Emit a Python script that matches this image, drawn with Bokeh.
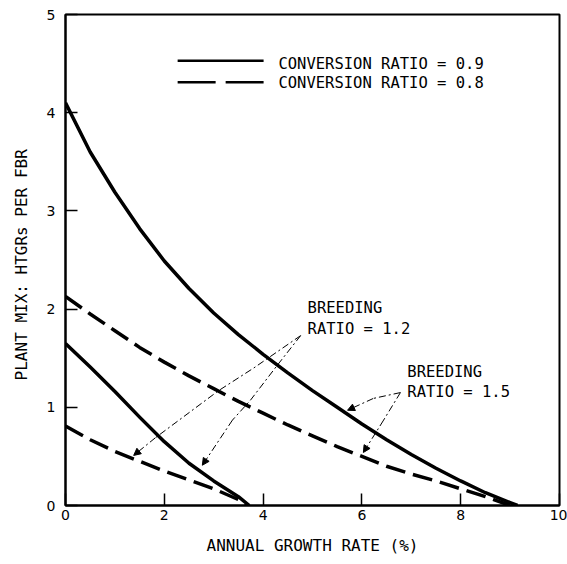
from bokeh.plotting import figure
from bokeh.models import Range1d, FixedTicker, Arrow, NormalHead, Label
from bokeh.core.properties import value
from bokeh.embed import file_html
from bokeh.resources import INLINE

# ---- data ----
growth_br15_cr09 = [0, 0.5, 1, 1.5, 2, 2.5, 3, 3.5, 4, 4.5, 5, 5.5, 6, 6.5, 7, 7.5, 8, 8.5, 9, 9.15]
mix_br15_cr09 = [4.10, 3.60, 3.19, 2.82, 2.49, 2.21, 1.96, 1.74, 1.54, 1.35, 1.17, 1.00, 0.83, 0.67, 0.52, 0.38, 0.25, 0.13, 0.03, 0.0]

growth_br15_cr08 = [0, 0.5, 1, 1.5, 2, 2.5, 3, 3.5, 4, 4.5, 5, 5.5, 6, 6.5, 7, 7.5, 8, 8.5, 9.0]
mix_br15_cr08 = [2.13, 1.95, 1.78, 1.61, 1.46, 1.32, 1.19, 1.06, 0.94, 0.82, 0.71, 0.60, 0.50, 0.40, 0.32, 0.25, 0.17, 0.09, 0.0]

growth_br12_cr09 = [0, 0.5, 1, 1.5, 2, 2.5, 3, 3.5, 3.72]
mix_br12_cr09 = [1.65, 1.41, 1.16, 0.90, 0.65, 0.43, 0.25, 0.09, 0.0]

growth_br12_cr08 = [0, 0.5, 1, 1.5, 2, 2.5, 3, 3.5, 3.68]
mix_br12_cr08 = [0.81, 0.67, 0.55, 0.45, 0.35, 0.26, 0.17, 0.06, 0.0]

x_ticks = [0, 2, 4, 6, 8, 10]
y_ticks = [0, 1, 2, 3, 4, 5]

legend_labels = ["CONVERSION RATIO = 0.9", "CONVERSION RATIO = 0.8"]
note_br12 = ["BREEDING", "RATIO = 1.2"]
note_br15 = ["BREEDING", "RATIO = 1.5"]

# leader lines (annotation paths, data units)
leader_br12_a_x = [4.76, 3.81, 3.10, 1.82, 1.38]
leader_br12_a_y = [1.73, 1.40, 1.17, 0.69, 0.51]
leader_br12_b_x = [4.76, 4.29, 3.74, 3.38, 2.77]
leader_br12_b_y = [1.73, 1.43, 1.07, 0.87, 0.41]
leader_br15_a_x = [6.78, 6.23, 5.71]
leader_br15_a_y = [1.15, 1.09, 0.97]
leader_br15_b_x = [6.78, 6.44, 6.03]
leader_br15_b_y = [1.15, 0.87, 0.54]

MONO = "DejaVu Sans Mono"
SANS = "DejaVu Sans"

p = figure(width=567, height=564, x_range=Range1d(0, 10), y_range=Range1d(0, 5),
           output_backend="svg", toolbar_location=None,
           min_border_left=65, min_border_right=8, min_border_top=14, min_border_bottom=59)

p.xgrid.visible = False
p.ygrid.visible = False
p.outline_line_color = "black"
p.outline_line_width = 2
p.outline_line_alpha = 1.0
p.background_fill_color = "white"
p.border_fill_color = "white"

for ax in (p.xaxis[0], p.yaxis[0]):
    ax.axis_line_width = 2
    ax.axis_line_color = "black"
    ax.major_tick_in = 12
    ax.major_tick_out = 0
    ax.major_tick_line_width = 1.5
    ax.minor_tick_line_color = None
    ax.major_label_text_font = SANS
    ax.major_label_text_font_size = "14px"
    ax.major_label_text_color = "black"
    ax.axis_label_text_font = MONO
    ax.axis_label_text_font_size = "16px"
    ax.axis_label_text_font_style = "normal"
    ax.axis_label_text_color = "black"

p.xaxis.ticker = FixedTicker(ticks=x_ticks)
p.yaxis.ticker = FixedTicker(ticks=y_ticks)
p.xaxis.major_label_standoff = 4
p.yaxis.major_label_standoff = 10
p.xaxis.axis_label = "ANNUAL GROWTH RATE (%)"
p.yaxis.axis_label = "PLANT MIX:  HTGRs PER FBR"
p.xaxis.axis_label_standoff = 13
p.yaxis.axis_label_standoff = 13

# curves
p.line(growth_br15_cr09, mix_br15_cr09, line_color="black", line_width=3.5, line_join="round")
p.line(growth_br15_cr08, mix_br15_cr08, line_color="black", line_width=3.5, line_dash="20 8")
p.line(growth_br12_cr09, mix_br12_cr09, line_color="black", line_width=3.5, line_join="round")
p.line(growth_br12_cr08, mix_br12_cr08, line_color="black", line_width=3.5, line_dash="20 8")

# legend (drawn manually, like the reference)
p.line([2.27, 4.01], [4.53, 4.53], line_color="black", line_width=2.5)
p.line([2.27, 4.01], [4.31, 4.31], line_color="black", line_width=2.5, line_dash="38 10")
for lab, yy in zip(legend_labels, [4.50, 4.30]):
    p.add_layout(Label(x=4.31, y=yy, text=lab, text_font=MONO, text_font_size="15.5px",
                       text_baseline="middle", text_align="left", text_color="black"))

for lab, yy in zip(note_br12, [2.01, 1.80]):
    p.add_layout(Label(x=4.90, y=yy, text=lab, text_font=MONO, text_font_size="15.5px",
                       text_baseline="middle", text_align="left", text_color="black"))
for lab, yy in zip(note_br15, [1.36, 1.16]):
    p.add_layout(Label(x=6.92, y=yy, text=lab, text_font=MONO, text_font_size="15.5px",
                       text_baseline="middle", text_align="left", text_color="black"))

# leader lines with arrowheads
for xs, ys in [(leader_br12_a_x, leader_br12_a_y), (leader_br12_b_x, leader_br12_b_y),
               (leader_br15_a_x, leader_br15_a_y), (leader_br15_b_x, leader_br15_b_y)]:
    p.line(xs[:-1], ys[:-1], line_color="black", line_width=1, line_dash="7 3 2 3")
    p.add_layout(Arrow(x_start=xs[-2], y_start=ys[-2], x_end=xs[-1], y_end=ys[-1],
                       line_color="black", line_width=1, line_dash="7 3 2 3",
                       end=NormalHead(size=7, fill_color="black", line_color="black", line_width=1)))

open("out.html", "w").write(file_html(p, INLINE))
